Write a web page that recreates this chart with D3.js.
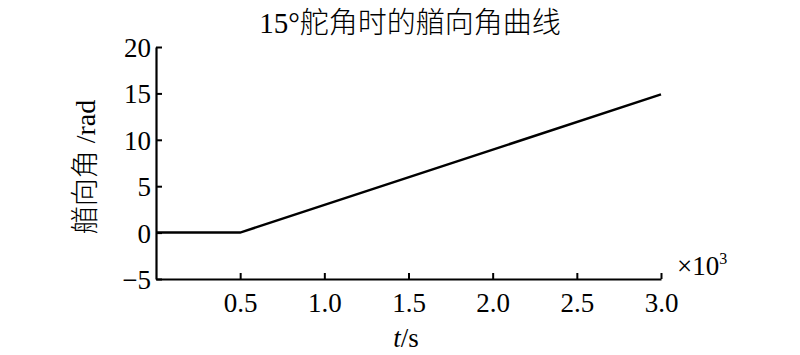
<!DOCTYPE html>
<html>
<head>
<meta charset="utf-8">
<script src="https://cdn.jsdelivr.net/npm/d3@7"></script>
<style>
  body { margin: 0; background: #fff; }
  text { font-family: "Liberation Serif", "Noto Sans CJK SC", serif; fill: #000; }
  .cjk { font-weight: 300; }
</style>
</head>
<body>
<svg id="chart" width="800" height="355"></svg>
<script>
// time in units of 10^3 s, heading angle in rad
const times = [0, 0.5, 3.0];
const heading = [0, 0, 14.9];
const xTicks = [0.5, 1.0, 1.5, 2.0, 2.5, 3.0];
const yTicks = [-5, 0, 5, 10, 15, 20];

const svg = d3.select('#chart');
const margin = { top: 47, right: 139, bottom: 76, left: 156 };
const width = 800 - margin.left - margin.right;
const height = 355 - margin.top - margin.bottom;

const x = d3.scaleLinear().domain([0, 3]).range([0, width]);
const y = d3.scaleLinear().domain([-5, 20]).range([height, 0]);

const g = svg.append('g').attr('transform', `translate(${margin.left},${margin.top})`);

// x axis, ticks pointing inward
const xAxis = g.append('g')
  .attr('transform', `translate(0,${height})`)
  .call(d3.axisBottom(x).tickValues(xTicks).tickFormat(d3.format('.1f')).tickSizeInner(-6).tickSizeOuter(0).tickPadding(14));

// y axis
const yAxis = g.append('g')
  .call(d3.axisLeft(y).tickValues(yTicks).tickFormat(d => d < 0 ? '\u2212' + Math.abs(d) : d).tickSizeInner(-6).tickSizeOuter(0).tickPadding(5));

[xAxis, yAxis].forEach(a => {
  a.select('.domain').attr('stroke', '#000').attr('stroke-width', 2.2);
  a.selectAll('.tick line').attr('stroke', '#000').attr('stroke-width', 2);
  a.selectAll('.tick text').attr('font-size', 27).attr('font-family', 'Liberation Serif');
});
xAxis.selectAll('.tick text').attr('dy', '0.71em');
yAxis.selectAll('.tick text').attr('dy', '0.35em');

const line = d3.line()
  .x((d, i) => x(times[i]))
  .y(d => y(d));

g.append('path')
  .datum(heading)
  .attr('fill', 'none')
  .attr('stroke', '#000')
  .attr('stroke-width', 2.5)
  .attr('d', line);

// title
svg.append('text')
  .attr('class', 'cjk')
  .attr('x', 410).attr('y', 33)
  .attr('text-anchor', 'middle')
  .attr('font-size', 29)
  .text('15°舵角时的艏向角曲线');

// y label
svg.append('text')
  .attr('class', 'cjk')
  .attr('transform', 'translate(95,167) rotate(-90)')
  .attr('text-anchor', 'middle')
  .attr('font-size', 28)
  .text('艏向角 /rad');

// x label
const xl = svg.append('text')
  .attr('x', 406).attr('y', 347)
  .attr('text-anchor', 'middle')
  .attr('font-size', 27);
xl.append('tspan').attr('font-style', 'italic').text('t');
xl.append('tspan').text('/s');

// multiplier
const mul = svg.append('text')
  .attr('x', 677).attr('y', 275)
  .attr('font-size', 27);
mul.append('tspan').text('×10');
mul.append('tspan').attr('font-size', 16).attr('dy', -11).text('3');
</script>
</body>
</html>
